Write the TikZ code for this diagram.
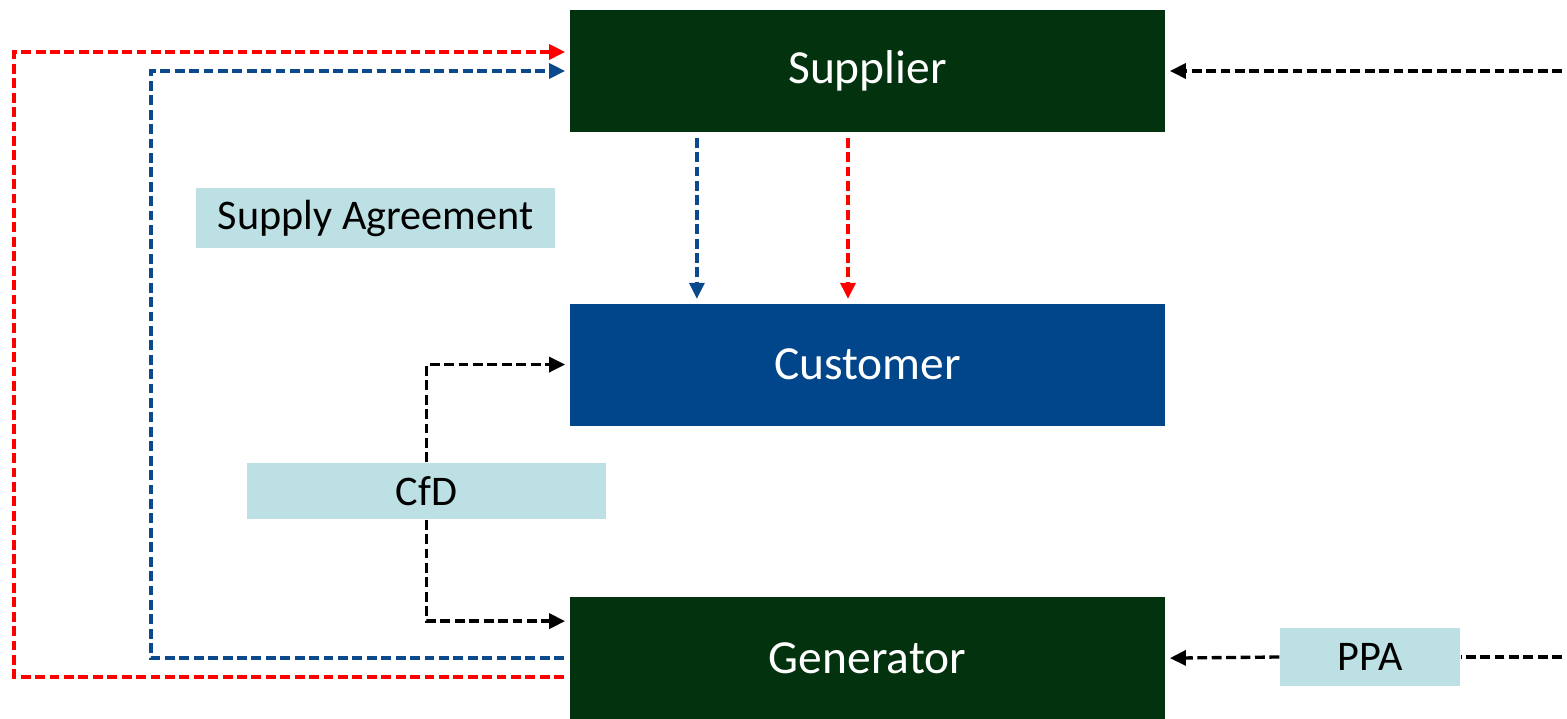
\documentclass[tikz,border=0pt]{standalone}
\usepackage{fontspec}
\setmainfont{Carlito}
\usepackage{xcolor}
\usetikzlibrary{arrows.meta, positioning}
\definecolor{boxgreen}{RGB}{3,51,14}
\definecolor{boxblue}{RGB}{1,70,138}
\definecolor{flowblue}{RGB}{10,74,140}
\definecolor{tagcyan}{RGB}{188,224,227}

\begin{document}
\begin{tikzpicture}[x=0.01cm, y=-0.01cm,
    party/.style={fill=#1, text=white, minimum width=5.95cm, minimum height=1.22cm, font=\fontsize{13.5}{16}\selectfont},
    tag/.style={fill=tagcyan, minimum height=0.56cm, font=\fontsize{12}{14}\selectfont},
    flow/.style={draw=#1, line width=0.95pt, dash pattern=on 2.8pt off 1.3pt,
      -{Triangle[length=1.6mm,width=1.5mm]}, shorten >=0.4mm, shorten <=0.5mm}]
  \useasboundingbox (0,0) rectangle (1567,719);

  \node[party=boxgreen] (sup) at (867.5,71) {Supplier};
  \node[party=boxblue, below=1.7cm of sup] (cust) {Customer};
  \node[party=boxgreen, below=1.7cm of cust] (gen) {Generator};

  \node[tag, minimum width=3.59cm] (sa) at (375.5,218) {Supply Agreement};
  \node[tag, minimum width=3.59cm] (cfd) at (426.5,491) {CfD};
  \node[tag, minimum width=1.8cm, minimum height=0.58cm] (ppa) at (1370,657) {PPA};
  \coordinate (supfeed) at (1567,71);
  \coordinate (ppafeed) at (1567,657);

  % supply agreement loops
  \draw[flow=red] ([yshift=-1.9mm]gen.west) -- ++(-555,0) |- ([yshift=1.9mm]sup.west);
  \draw[flow=flowblue] (gen.west) -- ++(-418,0) |- (sup.west);
  \draw[flow=flowblue] ([xshift=-1.705cm]sup.south) -- ([xshift=-1.705cm]cust.north);
  \draw[flow=red] ([xshift=-0.195cm]sup.south) -- ([xshift=-0.195cm]cust.north);

  \draw[flow=black] (supfeed) -- (sup.east);
  \draw[flow=black, shorten <=0pt] (cfd.north) |- (cust.west);
  \draw[flow=black, shorten <=0pt] (cfd.south) |- ([yshift=3.7mm]gen.west);
  \draw[flow=black, -, shorten >=0pt] (ppafeed) -- (ppa.east);
  \draw[flow=black, shorten <=0pt] (ppa.west) -- (gen.east);
\end{tikzpicture}
\end{document}
